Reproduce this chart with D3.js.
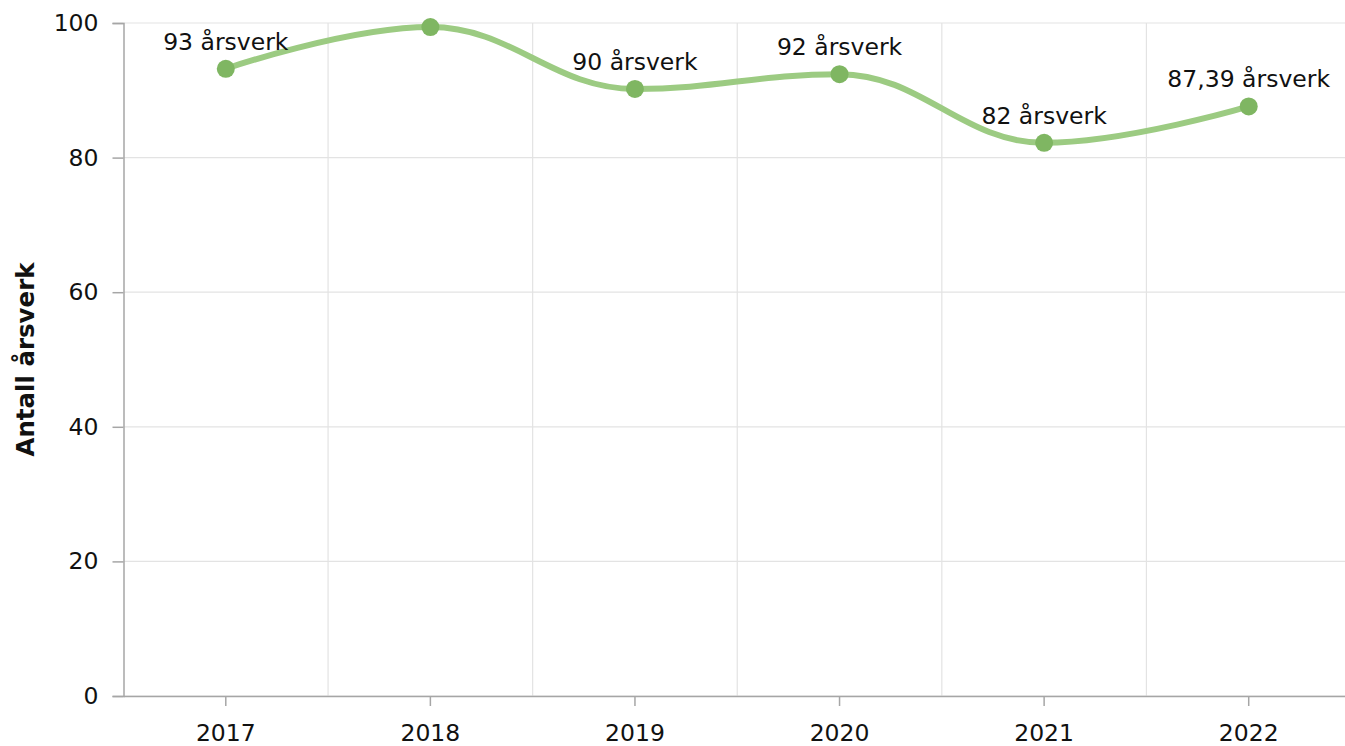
<!DOCTYPE html>
<html>
<head>
<meta charset="utf-8">
<script src="https://cdn.jsdelivr.net/npm/d3@7"></script>
<style>
  body { margin: 0; background: #fff; }
  svg { display: block; }
</style>
</head>
<body>
<svg width="1345" height="746"></svg>
<script>
// chart data
const years = ['2017', '2018', '2019', '2020', '2021', '2022'];
const values = [93.2, 99.4, 90.2, 92.4, 82.2, 87.6];
const labels = ['93 årsverk', '', '90 årsverk', '92 årsverk', '82 årsverk', '87,39 årsverk'];
const yTicks = [0, 20, 40, 60, 80, 100];

const width = 1345;
const height = 746;
// plot area runs a little past the right edge of the picture
const plot = {left: 123.5, right: 1351, top: 23, bottom: 696};
const font = '"DejaVu Sans", Verdana, sans-serif';
const svg = d3.select('svg');

const x = d3.scaleBand()
  .domain(years)
  .range([plot.left, plot.right]);
const y = d3.scaleLinear()
  .domain([0, 100])
  .range([plot.bottom, plot.top]);

// horizontal grid
svg.append('g')
  .selectAll('line')
  .data(yTicks)
  .join('line')
  .attr('x1', plot.left)
  .attr('x2', plot.right)
  .attr('y1', d => y(d))
  .attr('y2', d => y(d))
  .attr('stroke', '#e3e3e3')
  .attr('stroke-width', 1.2);

// vertical grid at band edges
svg.append('g')
  .selectAll('line')
  .data(years.slice(1))
  .join('line')
  .attr('x1', d => x(d))
  .attr('x2', d => x(d))
  .attr('y1', plot.top)
  .attr('y2', plot.bottom)
  .attr('stroke', '#e3e3e3')
  .attr('stroke-width', 1.2);

// y axis
const yAxis = svg.append('g')
  .attr('transform', `translate(${plot.left},0)`)
  .call(d3.axisLeft(y).tickValues(yTicks).tickSize(11).tickPadding(14));
yAxis.select('.domain').attr('stroke', '#a6a6a6').attr('stroke-width', 1.5);
yAxis.selectAll('.tick line').attr('stroke', '#a6a6a6').attr('stroke-width', 1.5);
yAxis.selectAll('text')
  .attr('fill', '#111')
  .style('font-family', font)
  .style('font-size', '23.5px');

// x axis
const xAxis = svg.append('g')
  .attr('transform', `translate(0,${plot.bottom})`)
  .call(d3.axisBottom(x).tickSize(10).tickPadding(18).tickSizeOuter(0));
xAxis.select('.domain').attr('stroke', '#a6a6a6').attr('stroke-width', 1.5);
xAxis.selectAll('.tick line').attr('stroke', '#a6a6a6').attr('stroke-width', 1.5);
xAxis.selectAll('text')
  .attr('fill', '#111')
  .style('font-family', font)
  .style('font-size', '23.5px');

// y axis title
svg.append('text')
  .attr('transform', `translate(34,${(plot.top + plot.bottom) / 2}) rotate(-90)`)
  .attr('text-anchor', 'middle')
  .style('font-family', font)
  .style('font-weight', 'bold')
  .style('font-size', '24.5px')
  .attr('fill', '#111')
  .text('Antall årsverk');

const cx = d => x(d.year) + x.bandwidth() / 2;
const points = years.map((year, i) => ({year, value: values[i], label: labels[i]}));

// spline path: control points like a highcharts "spline" (smoothing 1.5)
function spline(pts) {
  const p = pts.map(d => ({x: cx(d), y: y(d.value)}));
  const s = 1.5;
  const den = s + 1;
  p.forEach((pt, i) => {
    if (i === 0 || i === p.length - 1) return;
    const last = p[i - 1];
    const next = p[i + 1];
    const lx = (s * pt.x + last.x) / den;
    let ly = (s * pt.y + last.y) / den;
    const rx = (s * pt.x + next.x) / den;
    let ry = (s * pt.y + next.y) / den;
    const corr = ((ry - ly) * (rx - pt.x)) / (rx - lx) + pt.y - ry;
    ly += corr;
    ry += corr;
    if (ly > last.y && ly > pt.y) {
      ly = Math.max(last.y, pt.y);
      ry = 2 * pt.y - ly;
    } else if (ly < last.y && ly < pt.y) {
      ly = Math.min(last.y, pt.y);
      ry = 2 * pt.y - ly;
    }
    if (ry > next.y && ry > pt.y) {
      ry = Math.max(next.y, pt.y);
      ly = 2 * pt.y - ry;
    } else if (ry < next.y && ry < pt.y) {
      ry = Math.min(next.y, pt.y);
      ly = 2 * pt.y - ry;
    }
    pt.lx = lx; pt.ly = ly; pt.rx = rx; pt.ry = ry;
  });
  const path = d3.path();
  path.moveTo(p[0].x, p[0].y);
  for (let i = 1; i < p.length; i++) {
    const a = p[i - 1];
    const b = p[i];
    path.bezierCurveTo(
      a.rx !== undefined ? a.rx : a.x, a.ry !== undefined ? a.ry : a.y,
      b.lx !== undefined ? b.lx : b.x, b.ly !== undefined ? b.ly : b.y,
      b.x, b.y);
  }
  return path.toString();
}

svg.append('path')
  .datum(points)
  .attr('d', spline)
  .attr('fill', 'none')
  .attr('stroke', '#9ccb82')
  .attr('stroke-width', 6)
  .attr('stroke-linecap', 'round');

// markers
svg.append('g')
  .selectAll('circle')
  .data(points)
  .join('circle')
  .attr('cx', cx)
  .attr('cy', d => y(d.value))
  .attr('r', 9)
  .attr('fill', '#7fb662');

// data labels (2018 has none in the source)
svg.append('g')
  .selectAll('text')
  .data(points.filter(d => d.label))
  .join('text')
  .attr('x', cx)
  .attr('y', d => y(d.value) - 19)
  .attr('text-anchor', 'middle')
  .style('font-family', font)
  .style('font-size', '23.5px')
  .attr('fill', '#111')
  .text(d => d.label);
</script>
</body>
</html>
